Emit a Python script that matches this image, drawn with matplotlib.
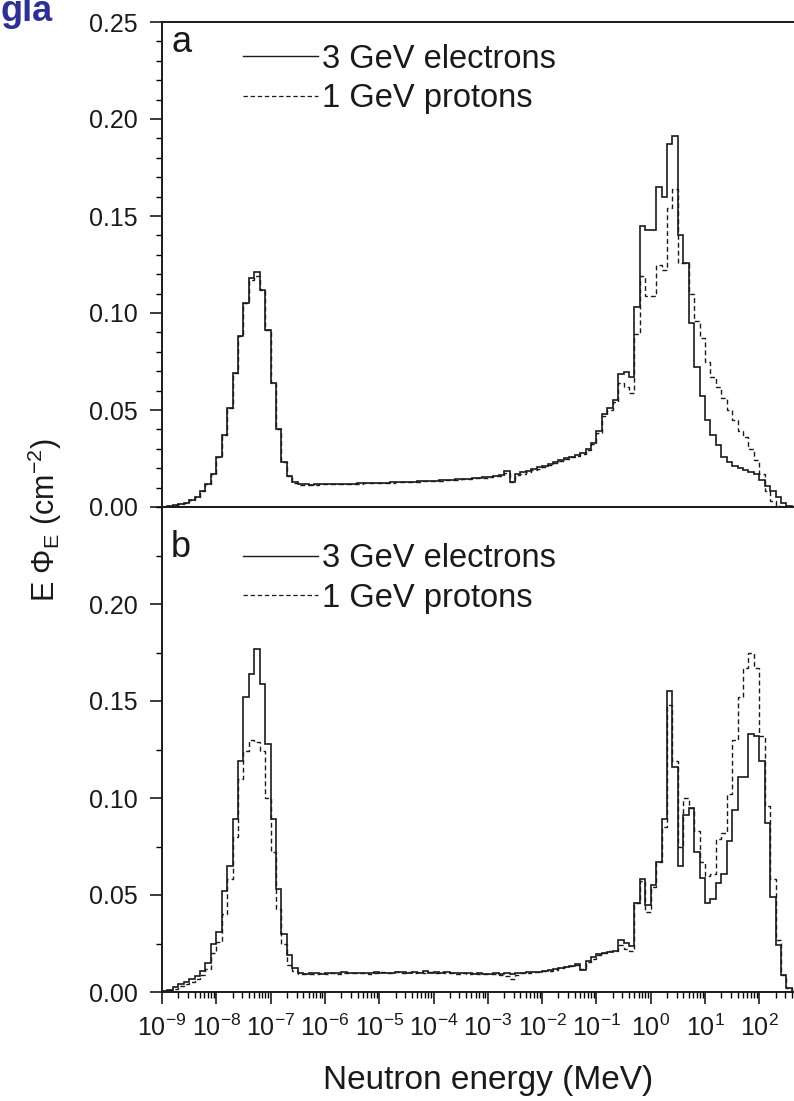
import numpy as np
import matplotlib
matplotlib.use('Agg')
import matplotlib.pyplot as plt
from matplotlib.ticker import LogLocator, MultipleLocator, FormatStrFormatter, NullFormatter
from matplotlib.lines import Line2D

plt.rcParams['font.family'] = ['Liberation Sans', 'DejaVu Sans']
plt.rcParams['mathtext.fontset'] = 'custom'
plt.rcParams['mathtext.rm'] = 'Liberation Sans'
plt.rcParams['mathtext.it'] = 'Liberation Sans:italic'

# lethargy bins, 10 per decade, from 1e-9 MeV
EDGES = np.logspace(-9, 2.6, 117)

# panel a
elec_a = [
    0.0002, 0.0005, 0.001, 0.0015, 0.002, 0.0035, 0.005, 0.008, 0.012, 0.017,
    0.026, 0.037, 0.051, 0.069, 0.088, 0.105, 0.118, 0.121, 0.112, 0.091,
    0.064, 0.040, 0.023, 0.016, 0.013, 0.0118, 0.0116, 0.0115, 0.0116, 0.0117,
    0.0118, 0.0118, 0.0119, 0.0120, 0.0121, 0.0121, 0.0122, 0.0123, 0.0124, 0.0124,
    0.0125, 0.0126, 0.0127, 0.0128, 0.0129, 0.0130, 0.0131, 0.0132, 0.0133, 0.0135,
    0.0136, 0.0137, 0.0138, 0.0140, 0.0142, 0.0144, 0.0146, 0.0148, 0.0150, 0.0153,
    0.0156, 0.0160, 0.0165, 0.0186, 0.0130, 0.0172, 0.0178, 0.0186, 0.0195, 0.0204,
    0.0212, 0.0222, 0.0232, 0.0240, 0.0255, 0.0260, 0.0270, 0.0280, 0.0300, 0.0330,
    0.039, 0.048, 0.051, 0.055, 0.0687, 0.0695, 0.067, 0.103, 0.145, 0.143,
    0.143, 0.165, 0.160, 0.187, 0.191, 0.140, 0.126, 0.095, 0.072, 0.057,
    0.045, 0.037, 0.032, 0.026, 0.023, 0.021, 0.020, 0.019, 0.018, 0.017,
    0.014, 0.011, 0.008, 0.005, 0.002, 0.0005,
]
prot_a = [
    0.0002, 0.0005, 0.001, 0.0015, 0.002, 0.0035, 0.005, 0.008, 0.012, 0.017,
    0.026, 0.037, 0.051, 0.069, 0.088, 0.105, 0.117, 0.119, 0.112, 0.091,
    0.064, 0.040, 0.023, 0.016, 0.0125, 0.0115, 0.0114, 0.0114, 0.0115, 0.0116,
    0.0117, 0.0117, 0.0118, 0.0119, 0.0120, 0.0120, 0.0121, 0.0122, 0.0123, 0.0123,
    0.0124, 0.0125, 0.0126, 0.0127, 0.0128, 0.0129, 0.0130, 0.0131, 0.0132, 0.0134,
    0.0135, 0.0136, 0.0137, 0.0139, 0.0141, 0.0143, 0.0145, 0.0147, 0.0149, 0.0152,
    0.0154, 0.0158, 0.0162, 0.0176, 0.0128, 0.0166, 0.0172, 0.0180, 0.0190, 0.0198,
    0.0206, 0.0216, 0.0226, 0.0236, 0.0250, 0.0256, 0.0265, 0.0275, 0.0295, 0.0325,
    0.038, 0.047, 0.050, 0.054, 0.064, 0.062, 0.059, 0.089, 0.119, 0.109,
    0.109, 0.125, 0.122, 0.154, 0.164, 0.126, 0.126, 0.110, 0.096, 0.087,
    0.075, 0.067, 0.062, 0.056, 0.050, 0.045, 0.039, 0.036, 0.030, 0.024,
    0.017, 0.008, 0.003, 0.0005, 0.0, 0.0,
]

# panel b
elec_b = [
    0.0005, 0.001, 0.0025, 0.004, 0.005, 0.0065, 0.008, 0.011, 0.015, 0.025,
    0.031, 0.052, 0.065, 0.089, 0.119, 0.152, 0.164, 0.177, 0.159, 0.128,
    0.089, 0.053, 0.030, 0.019, 0.0125, 0.0100, 0.0095, 0.0096, 0.0098, 0.0095,
    0.0100, 0.0097, 0.0098, 0.0102, 0.0098, 0.0100, 0.0097, 0.0100, 0.0098, 0.0102,
    0.0098, 0.0100, 0.0097, 0.0101, 0.0105, 0.0099, 0.0103, 0.0098, 0.0108, 0.0100,
    0.0103, 0.0098, 0.0102, 0.0097, 0.0100, 0.0096, 0.0097, 0.0095, 0.0096, 0.0094,
    0.0095, 0.0096, 0.0095, 0.0097, 0.0095, 0.0098, 0.0100, 0.0102, 0.0104, 0.0103,
    0.0108, 0.0112, 0.0118, 0.0125, 0.0130, 0.0135, 0.0146, 0.0115, 0.0160, 0.0180,
    0.0195, 0.0200, 0.0205, 0.0210, 0.0270, 0.0255, 0.0235, 0.046, 0.058, 0.045,
    0.055, 0.067, 0.089, 0.155, 0.116, 0.065, 0.091, 0.095, 0.072, 0.059,
    0.046, 0.048, 0.056, 0.061, 0.078, 0.094, 0.111, 0.111, 0.133, 0.132,
    0.119, 0.087, 0.049, 0.024, 0.009, 0.002,
]
prot_b = [
    0.0003, 0.0008, 0.0015, 0.003, 0.004, 0.005, 0.0065, 0.009, 0.012, 0.020,
    0.026, 0.040, 0.058, 0.080, 0.110, 0.124, 0.130, 0.129, 0.124, 0.100,
    0.072, 0.043, 0.025, 0.014, 0.011, 0.0095, 0.0092, 0.0094, 0.0093, 0.0096,
    0.0094, 0.0098, 0.0095, 0.0097, 0.0100, 0.0096, 0.0099, 0.0097, 0.0095, 0.0099,
    0.0101, 0.0097, 0.0099, 0.0104, 0.0098, 0.0101, 0.0097, 0.0103, 0.0100, 0.0104,
    0.0098, 0.0101, 0.0096, 0.0099, 0.0095, 0.0097, 0.0094, 0.0096, 0.0093, 0.0095,
    0.0092, 0.0094, 0.0090, 0.0080, 0.0065, 0.0088, 0.0097, 0.0100, 0.0101, 0.0104,
    0.0106, 0.0110, 0.0115, 0.0122, 0.0128, 0.0132, 0.0140, 0.0120, 0.0155, 0.0172,
    0.0190, 0.0200, 0.0210, 0.0210, 0.0240, 0.0220, 0.0210, 0.046, 0.057, 0.041,
    0.054, 0.067, 0.085, 0.148, 0.119, 0.075, 0.100, 0.095, 0.083, 0.067,
    0.060, 0.061, 0.079, 0.082, 0.102, 0.130, 0.152, 0.167, 0.175, 0.167,
    0.132, 0.096, 0.058, 0.027, 0.009, 0.002,
]

LABELS = ['3 GeV electrons', '1 GeV protons']
DECADES = 10.0 ** np.arange(-9, 3)
LINE_C = '#1a1a1a'
DASH = (0, (3.5, 2.2))

W, H = 794, 1101
fig = plt.figure(figsize=(W / 100, H / 100), dpi=100)

x0 = 162 / W
aw = 651.6 / W
ah = 485 / H
ax_a = fig.add_axes([x0, 1 - 507 / H, aw, ah])
ax_b = fig.add_axes([x0, 1 - 992 / H, aw, ah])

# per panel: tag baseline and legend top, in axes fraction
panels = [
    (ax_a, elec_a, prot_a, 'a', 0.938, 0.955),
    (ax_b, elec_b, prot_b, 'b', 0.897, 0.925),
]

for ax, e, p, tag, tag_y, leg_y in panels:
    ax.stairs(p, EDGES, color=LINE_C, lw=1.0, linestyle=DASH)
    ax.stairs(e, EDGES, color=LINE_C, lw=1.2)
    ax.set_xscale('log')
    ax.set_xlim(1e-9, 1e3)
    ax.set_ylim(0, 0.25)
    ax.set_xticks(DECADES)
    ax.xaxis.set_minor_locator(LogLocator(base=10, subs=np.arange(2, 10), numticks=30))
    ax.xaxis.set_minor_formatter(NullFormatter())
    ax.yaxis.set_major_formatter(FormatStrFormatter('%.2f'))
    ax.tick_params(which='major', direction='out', length=8.5, width=1.2,
                   labelsize=18, colors='#1a1a1a')
    ax.tick_params(axis='y', which='major', pad=9)
    ax.tick_params(which='minor', direction='out', length=4.5, width=1.0)
    for s in ax.spines.values():
        s.set_linewidth(1.4)
        s.set_color('#1a1a1a')
    ax.text(0.014, tag_y, tag, transform=ax.transAxes, ha='left', va='baseline',
            fontsize=26, color='#1a1a1a')
    handles = [Line2D([], [], color=LINE_C, lw=1.0),
               Line2D([], [], color=LINE_C, lw=0.9, linestyle=DASH)]
    ax.legend(handles, LABELS, loc='upper left', bbox_to_anchor=(0.124, leg_y),
              frameon=False, fontsize=23.5, handlelength=2.3, handletextpad=0.12,
              labelspacing=0.26, borderpad=0, borderaxespad=0,
              labelcolor='#1a1a1a')

ax_a.yaxis.set_major_locator(MultipleLocator(0.05))
ax_a.yaxis.set_minor_locator(MultipleLocator(0.01))
ax_a.tick_params(axis='x', labelbottom=False)

ax_b.set_yticks([0.0, 0.05, 0.10, 0.15, 0.20])
ax_b.yaxis.set_minor_locator(MultipleLocator(0.025))
ax_b.tick_params(axis='x', pad=8)
ax_b.set_xlabel('Neutron energy (MeV)', fontsize=24, labelpad=17, color='#1a1a1a')

fig.text(45 / W, 1 - 520 / H, 'E Φ$_\\mathrm{E}$ (cm$^{-2}$)', rotation=90,
         ha='center', va='center', fontsize=22, color='#1a1a1a')

# clipped heading from the page above
fig.text(53 / W, 1 - 21 / H, 'gla', ha='right', va='baseline', fontsize=26,
         fontweight='bold', color='#2e3192')

fig.savefig('out.png', dpi=100)
